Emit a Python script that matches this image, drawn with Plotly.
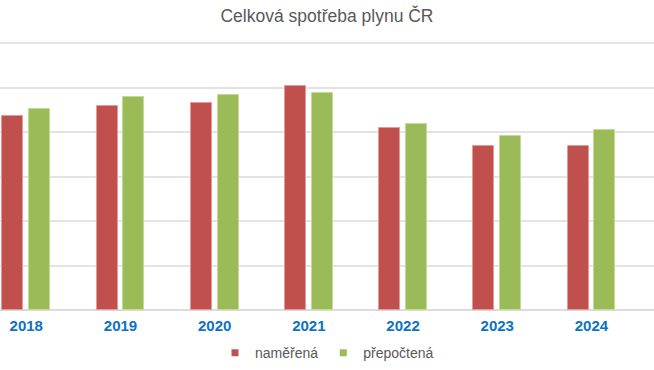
import plotly.graph_objects as go

years = ["2018", "2019", "2020", "2021", "2022", "2023", "2024"]
namerena = [87.4, 91.6, 92.9, 100.9, 81.7, 73.9, 73.9]
prepoctena = [90.4, 95.6, 96.7, 97.7, 83.8, 78.4, 81.1]

RED = "#C0504D"
GREEN = "#9BBB59"

fig = go.Figure()
fig.add_trace(go.Bar(
    x=years, y=namerena, name="naměřená", showlegend=False,
    marker=dict(color=RED, line=dict(color="#E59A98", width=1)),
    width=0.223, offset=-0.253,
))
fig.add_trace(go.Bar(
    x=years, y=prepoctena, name="přepočtená", showlegend=False,
    marker=dict(color=GREEN, line=dict(color="#C3DC93", width=1)),
    width=0.223, offset=0.03,
))
# legend entries (small square swatches)
for nm, col in [("naměřená", RED), ("přepočtená", GREEN)]:
    fig.add_trace(go.Scatter(x=[None], y=[None], mode="markers", name=nm,
                             marker=dict(symbol="square", size=7, color=col)))

fig.update_layout(
    width=654, height=370,
    margin=dict(l=0, r=0, t=42, b=60, autoexpand=False),
    paper_bgcolor="white", plot_bgcolor="white",
    font=dict(family="Liberation Sans, Arial, sans-serif", color="#595959"),
    title=dict(text="Celková spotřeba plynu ČR", x=0.5, xanchor="center",
               y=1 - 16 / 370, yanchor="middle",
               font=dict(size=17.5, color="#595959")),
    showlegend=True,
    legend=dict(orientation="h", x=0.5, xanchor="center", y=-0.161, yanchor="middle",
                font=dict(size=14, color="#595959"), itemwidth=30,
                traceorder="normal"),
    xaxis=dict(type="category", range=[-0.279, 6.664], showgrid=False,
               showline=False, ticks="", zeroline=False, ticklabelstandoff=5,
               tickfont=dict(size=15, color="#0B72C8", family="Liberation Sans, Arial, sans-serif", weight="bold")),
    yaxis=dict(range=[0, 120.5], tickvals=[0, 20, 40, 60, 80, 100, 120], showticklabels=False, showgrid=True,
               gridcolor="#E3E3E3", gridwidth=1.5, zeroline=True, zerolinecolor="#DCDCDC",
               zerolinewidth=2, fixedrange=True),
    bargap=0,
)

fig.write_html("out.html", config={"displayModeBar": False},
               post_script="document.body.style.margin='0';")
